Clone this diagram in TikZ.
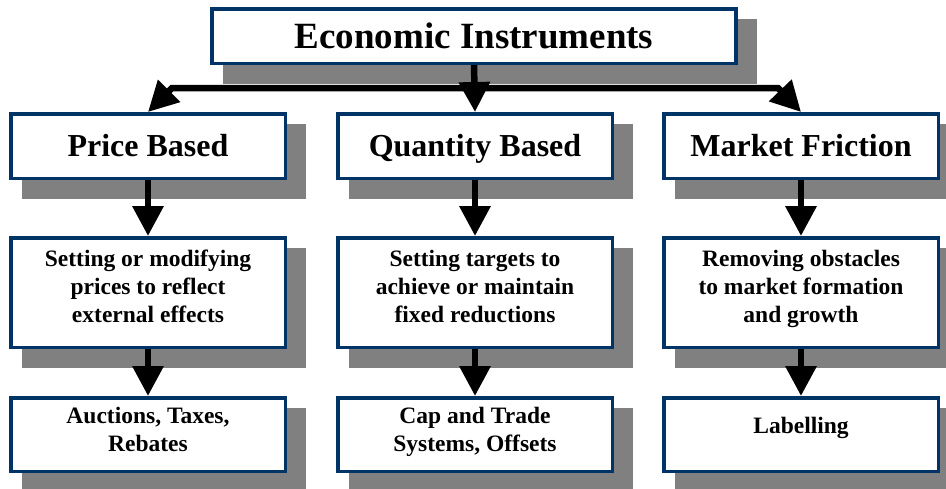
\documentclass[tikz,border=0pt]{standalone}
\usepackage{fontspec}
\setmainfont{Liberation Serif}
\usetikzlibrary{arrows.meta,backgrounds}

\definecolor{boxblue}{RGB}{0,51,102}
\definecolor{shadowgray}{RGB}{128,128,128}

\tikzset{
  box/.style={draw=boxblue, line width=3.5pt, fill=white, align=center, inner sep=2pt},
  headbox/.style={box, minimum width=524pt, minimum height=54.5pt, font=\fontsize{37}{40}\selectfont\bfseries},
  typebox/.style={box, minimum width=274.5pt, minimum height=64.5pt, text height=22pt, text depth=2pt, font=\fontsize{32}{36}\selectfont\bfseries},
  descbox/.style={box, minimum width=274.5pt, minimum height=109.5pt, text depth=12pt, font=\fontsize{23.5}{28}\selectfont\bfseries},
  toolbox/.style={box, minimum width=274.5pt, minimum height=73.5pt, text depth=10pt, font=\fontsize{23.5}{28}\selectfont\bfseries},
  arr/.style={line width=6.5pt, -{Triangle[width=30pt,length=30pt]}},
  shadowfill/.style={fill=shadowgray},
}

\begin{document}
\begin{tikzpicture}[x=1pt, y=-1pt]
\useasboundingbox (0,0) rectangle (946,488);

% boxes
\node[headbox] (econ) at (474,36) {Economic Instruments};

\node[typebox] (price) at (148,146) {Price Based};
\node[typebox] (quant) at (475,146) {Quantity Based};
\node[typebox] (fric)  at (801,146) {Market Friction};

\node[descbox] (priceDesc) at (148,292.5) {Setting or modifying\\prices to reflect\\external effects};
\node[descbox] (quantDesc) at (475,292.5) {Setting targets to\\achieve or maintain\\fixed reductions};
\node[descbox] (fricDesc)  at (801,292.5) {Removing obstacles\\to market formation\\and growth};

\node[toolbox] (priceTool) at (148,434.5) {Auctions, Taxes,\\Rebates};
\node[toolbox] (quantTool) at (475,434.5) {Cap and Trade\\Systems, Offsets};
\node[toolbox, text depth=18pt] (fricTool) at (801,434.5) {Labelling};

% shadows
\begin{scope}[on background layer]
\foreach \n in {econ,price,quant,fric,priceDesc,quantDesc,fricDesc,priceTool,quantTool,fricTool}
  \fill[shadowfill] ([xshift=13pt,yshift=-12pt]\n.north west) rectangle ([xshift=19pt,yshift=-19pt]\n.south east);
\end{scope}

% connectors
\coordinate (hub) at (474,88);
\draw[arr] (econ.south) -- (quant.north);
\draw[arr] (hub) -- (172,88) -- (price.north);
\draw[arr] (hub) -- (778,88) -- (fric.north);

\foreach \c in {price,quant,fric}{
  \draw[arr] (\c.south) -- (\c Desc.north);
  \draw[arr] (\c Desc.south) -- (\c Tool.north);
}
\end{tikzpicture}
\end{document}
